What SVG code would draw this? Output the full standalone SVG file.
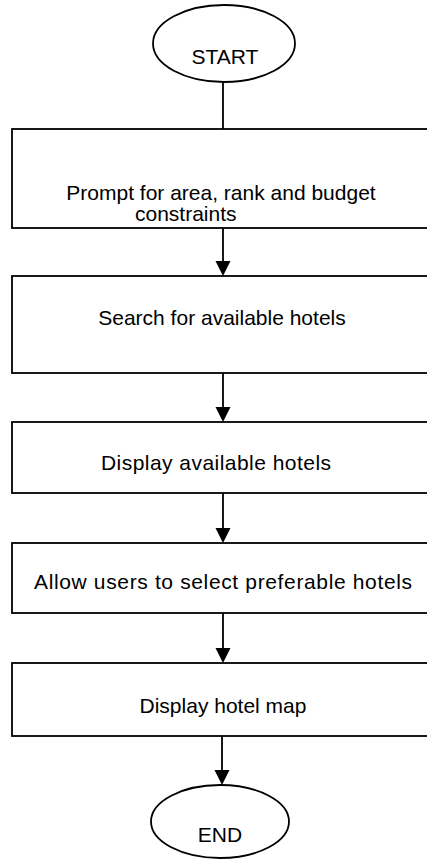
<svg xmlns="http://www.w3.org/2000/svg" width="427" height="859" viewBox="0 0 427 859">
<style>
.shape{fill:#fff;stroke:#000;stroke-width:1.8}
.t{font-family:"Liberation Sans",Arial,sans-serif;font-size:21px;fill:#000}
.c{text-anchor:middle}
.conn{stroke:#000;stroke-width:1.8;fill:none}
</style>
<rect width="427" height="859" fill="#fff"/>
<g id="connectors">
<line class="conn" x1="223" y1="82" x2="223" y2="129"/>
<path d="M223,228 V263" class="conn"/><path d="M215.5,261 L230.5,261 L223,276 Z"/>
<path d="M223,373 V409" class="conn"/><path d="M215.5,407 L230.5,407 L223,422 Z"/>
<path d="M223,493 V530" class="conn"/><path d="M215.5,528 L230.5,528 L223,543 Z"/>
<path d="M223,613 V650" class="conn"/><path d="M215.5,648 L230.5,648 L223,663 Z"/>
<path d="M222,736 V772" class="conn"/><path d="M214.5,770 L229.5,770 L222,785 Z"/>
</g>
<g id="start">
<ellipse class="shape" cx="224" cy="43.5" rx="71" ry="38.5"/>
<text class="t c" x="225" y="64">START</text>
</g>
<g id="prompt">
<rect class="shape" x="12" y="129" width="420" height="99"/>
<text class="t c" x="221" y="200">Prompt for area, rank and budget</text>
<text class="t" x="135" y="221">constraints</text>
</g>
<g id="search">
<rect class="shape" x="12" y="276" width="420" height="97"/>
<text class="t c" x="222" y="325">Search for available hotels</text>
</g>
<g id="display">
<rect class="shape" x="12" y="422" width="420" height="71"/>
<text class="t c" x="216" y="470" textLength="230" lengthAdjust="spacing">Display available hotels</text>
</g>
<g id="allow">
<rect class="shape" x="12" y="543" width="420" height="70"/>
<text class="t c" x="223" y="589" textLength="378" lengthAdjust="spacing">Allow users to select preferable hotels</text>
</g>
<g id="map">
<rect class="shape" x="12" y="663" width="420" height="73"/>
<text class="t c" x="223" y="713">Display hotel map</text>
</g>
<g id="end">
<ellipse class="shape" cx="220" cy="821.5" rx="69" ry="36.5"/>
<text class="t c" x="220" y="842">END</text>
</g>
</svg>
